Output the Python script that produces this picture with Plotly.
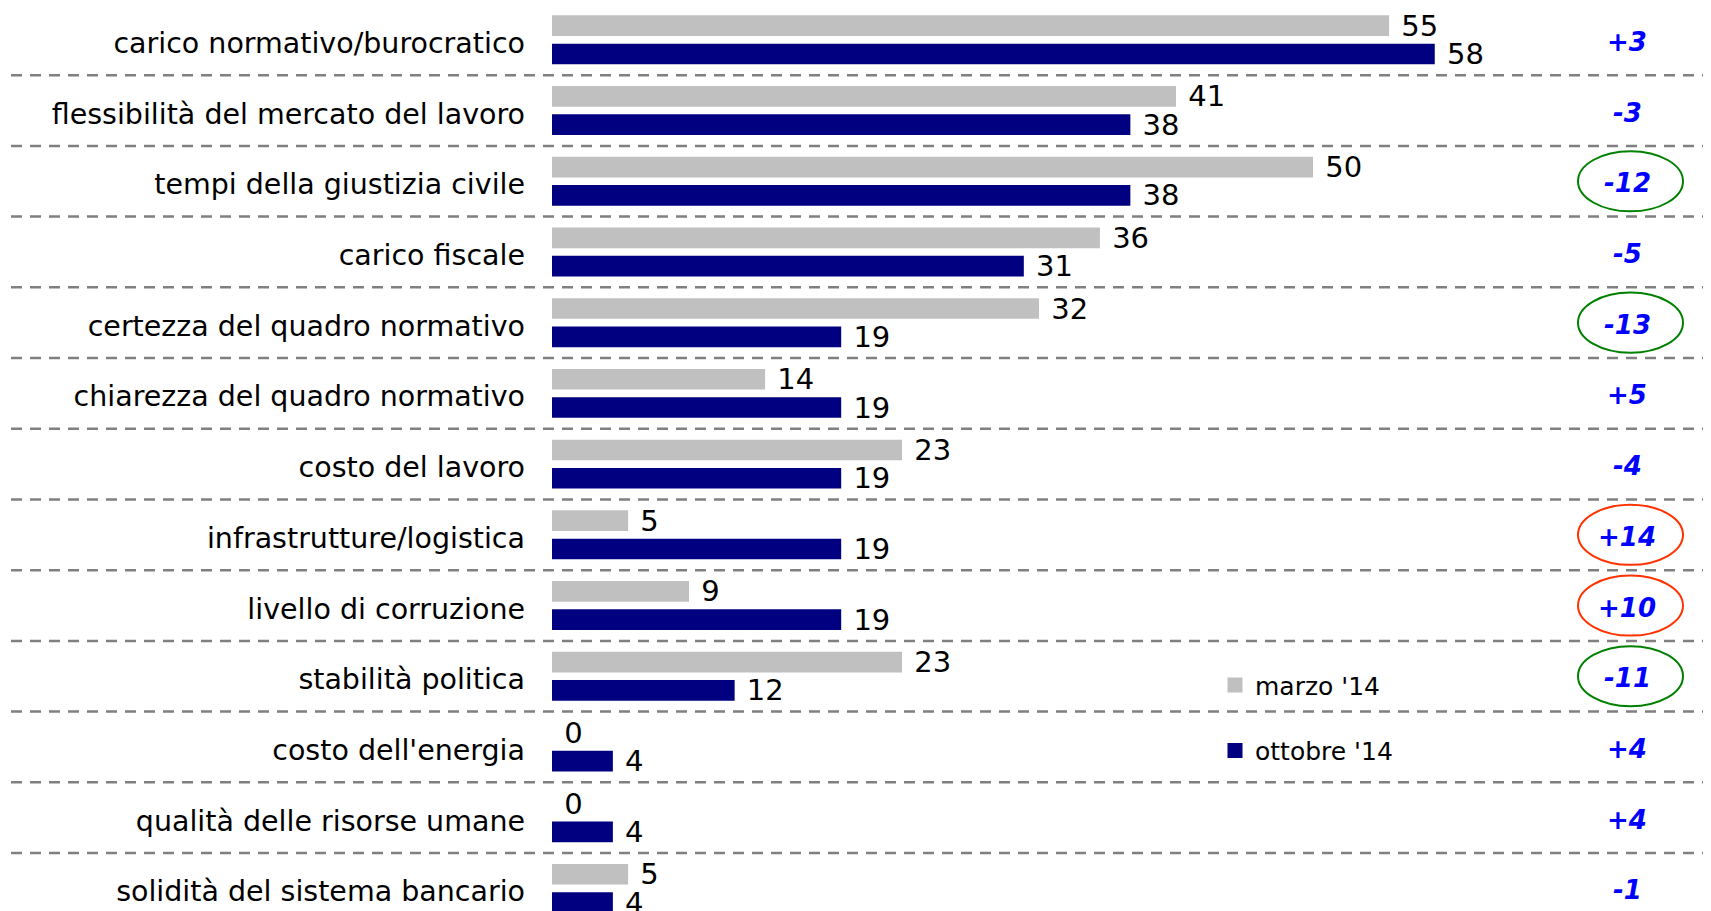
import plotly.graph_objects as go

categories = [
    "carico normativo/burocratico",
    "flessibilità del mercato del lavoro",
    "tempi della giustizia civile",
    "carico fiscale",
    "certezza del quadro normativo",
    "chiarezza del quadro normativo",
    "costo del lavoro",
    "infrastrutture/logistica",
    "livello di corruzione",
    "stabilità politica",
    "costo dell'energia",
    "qualità delle risorse umane",
    "solidità del sistema bancario",
]
marzo = [55, 41, 50, 36, 32, 14, 23, 5, 9, 23, 0, 0, 5]
ottobre = [58, 38, 38, 31, 19, 19, 19, 19, 19, 12, 4, 4, 4]
series_names = ["marzo '14", "ottobre '14"]
series_colors = ["#C0C0C0", "#000080"]

# page has an 8px body margin; figure sized to fit the 1711x911 viewport
OFF = 8
W, H = 1711 - OFF, 911 - OFF
LEFT = 552 - OFF
PX_PER_UNIT = 15.22
plot_w = W - LEFT

def px_to_paper(px_page):
    return (px_page - OFF - LEFT) / plot_w

fig = go.Figure()
for name, vals, col in zip(series_names, [marzo, ottobre], series_colors):
    fig.add_trace(go.Bar(
        y=categories, x=vals, orientation="h", name=name,
        marker=dict(color=col, line=dict(width=0)),
        texttemplate="\u00a0%{x}", textposition="outside",
        constraintext="none", cliponaxis=False,
        textfont=dict(family="DejaVu Sans", size=29, color="black"),
        showlegend=False,
    ))
# legend entries with larger square swatches
for name, col in zip(series_names, series_colors):
    fig.add_trace(go.Scatter(
        x=[None], y=[None], mode="markers", name=name,
        marker=dict(symbol="square", size=15, color=col),
        legendgroup=name, showlegend=True,
    ))

shapes = []
for i in range(len(categories) - 1):
    shapes.append(dict(
        type="line", xref="paper", yref="y",
        x0=px_to_paper(11), x1=px_to_paper(1711), y0=i + 0.5, y1=i + 0.5,
        line=dict(color="#808080", width=2.5, dash="11px,8px"),
    ))

annotations = []
for i, (a, b) in enumerate(zip(marzo, ottobre)):
    d = b - a
    txt = f"+{d}" if d > 0 else f"{d}"
    annotations.append(dict(
        xref="paper", yref="y", x=px_to_paper(1627), y=i,
        text=f"<b><i>{txt}</i></b>", showarrow=False,
        font=dict(family="DejaVu Sans", size=26, color="#0000FF"),
        xanchor="center", yanchor="middle", yshift=-2,
    ))
    if abs(d) >= 10:
        col = "#008000" if d < 0 else "#FF3300"
        shapes.append(dict(
            type="circle", xref="paper", yref="y",
            x0=px_to_paper(1578), x1=px_to_paper(1683),
            y0=i - 0.425, y1=i + 0.425,
            line=dict(color=col, width=2),
        ))

fig.update_layout(
    width=W, height=H,
    margin=dict(l=LEFT, r=0, t=0, b=0, autoexpand=False),
    paper_bgcolor="white", plot_bgcolor="white",
    barmode="group", bargap=0.2, bargroupgap=0.27,
    xaxis=dict(range=[0, plot_w / PX_PER_UNIT], visible=False, showgrid=False, zeroline=False),
    yaxis=dict(
        range=[12.32, -0.45], showgrid=False, zeroline=False, showline=False,
        ticks="", ticklabelstandoff=26, ticklabelshift=-3, automargin=False,
        tickfont=dict(family="DejaVu Sans", size=28.5, color="black"),
    ),
    shapes=shapes, annotations=annotations,
    showlegend=True,
    legend=dict(
        x=px_to_paper(1215), xanchor="left", y=0.214, yanchor="middle",
        bgcolor="rgba(0,0,0,0)", traceorder="grouped", tracegroupgap=30,
        font=dict(family="DejaVu Sans", size=25, color="black"),
        itemwidth=30,
    ),
    font=dict(family="DejaVu Sans"),
)

fig.write_html("out.html")
